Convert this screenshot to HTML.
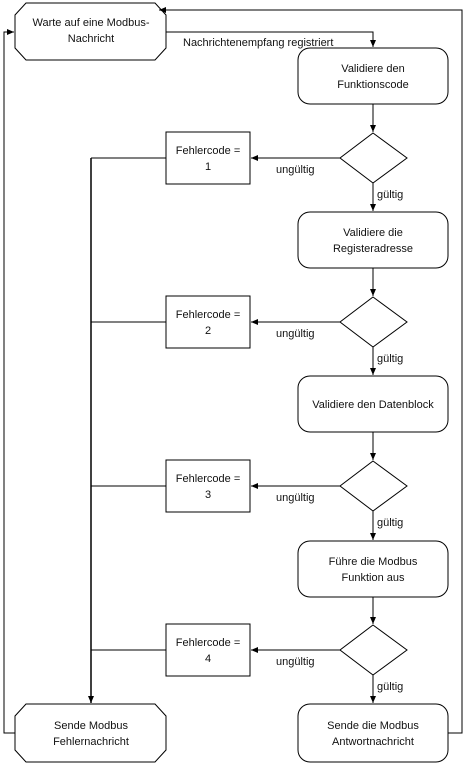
<!DOCTYPE html>
<html><head><meta charset="utf-8"><style>
body{margin:0;background:#fff;width:464px;height:769px;overflow:hidden}
svg text{font-family:"Liberation Sans",sans-serif;font-size:11px;fill:#111}
</style></head><body>
<svg width="464" height="769" viewBox="0 0 464 769">
<defs><marker id="a" markerWidth="8" markerHeight="8" refX="7" refY="4" orient="auto" markerUnits="userSpaceOnUse"><path d="M0,1 L7,4 L0,7z" fill="#000"/></marker></defs>
<g fill="none" stroke="#000" stroke-width="1">
<!-- octagons -->
<path d="M26,3 H155 L166,15 V48 L155,60 H26 L15,48 V15 Z"/>
<path d="M26,704 H155 L166,716 V750 L155,762 H26 L15,750 V716 Z"/>
<!-- rounded boxes -->
<rect x="298" y="48" width="150" height="56" rx="12"/>
<rect x="298" y="212" width="150" height="56" rx="12"/>
<rect x="298" y="376" width="150" height="56" rx="12"/>
<rect x="298" y="541" width="150" height="56" rx="12"/>
<rect x="298" y="704" width="150" height="58" rx="12"/>
<!-- diamonds -->
<path d="M373,133 L407,158 L373,183 L340,158 Z"/>
<path d="M373,297 L407,322 L373,347 L340,322 Z"/>
<path d="M373,461 L407,486 L373,511 L340,486 Z"/>
<path d="M373,625 L407,650 L373,675 L340,650 Z"/>
<!-- error boxes -->
<rect x="166" y="132" width="84" height="52"/>
<rect x="166" y="296" width="84" height="52"/>
<rect x="166" y="460" width="84" height="52"/>
<rect x="166" y="624" width="84" height="52"/>
<!-- connectors -->
<path d="M166,32 H373 V47" marker-end="url(#a)"/>
<path d="M373,104 V132" marker-end="url(#a)"/>
<path d="M373,183 V211" marker-end="url(#a)"/>
<path d="M373,268 V296" marker-end="url(#a)"/>
<path d="M373,347 V375" marker-end="url(#a)"/>
<path d="M373,432 V460" marker-end="url(#a)"/>
<path d="M373,511 V540" marker-end="url(#a)"/>
<path d="M373,597 V624" marker-end="url(#a)"/>
<path d="M373,675 V703" marker-end="url(#a)"/>
<path d="M340,158 H251" marker-end="url(#a)"/>
<path d="M340,322 H251" marker-end="url(#a)"/>
<path d="M340,486 H251" marker-end="url(#a)"/>
<path d="M340,650 H251" marker-end="url(#a)"/>
<path d="M166,158 H91 M166,322 H91 M166,486 H91 M166,650 H91"/>
<path d="M91,158 V703" marker-end="url(#a)" stroke-width="1.5"/>
<path d="M15,733 H4 V32 H14" marker-end="url(#a)"/>
<path d="M448,733 H462 V10 H159" marker-end="url(#a)"/>
</g>
<text x="91" y="26" text-anchor="middle">Warte auf eine Modbus-</text>
<text x="91" y="42" text-anchor="middle">Nachricht</text>
<text x="183" y="46">Nachrichtenempfang registriert</text>
<text x="373" y="72" text-anchor="middle">Validiere den</text>
<text x="373" y="88" text-anchor="middle">Funktionscode</text>
<text x="373" y="236" text-anchor="middle">Validiere die</text>
<text x="373" y="252" text-anchor="middle">Registeradresse</text>
<text x="373" y="408" text-anchor="middle">Validiere den Datenblock</text>
<text x="373" y="565" text-anchor="middle">Führe die Modbus</text>
<text x="373" y="581" text-anchor="middle">Funktion aus</text>
<text x="373" y="729" text-anchor="middle">Sende die Modbus</text>
<text x="373" y="745" text-anchor="middle">Antwortnachricht</text>
<text x="91" y="729" text-anchor="middle">Sende Modbus</text>
<text x="91" y="745" text-anchor="middle">Fehlernachricht</text>
<g text-anchor="middle">
<text x="208" y="154">Fehlercode =</text><text x="208" y="170">1</text>
<text x="208" y="318">Fehlercode =</text><text x="208" y="334">2</text>
<text x="208" y="482">Fehlercode =</text><text x="208" y="498">3</text>
<text x="208" y="646">Fehlercode =</text><text x="208" y="662">4</text>
</g>
<text x="276" y="173">ungültig</text>
<text x="276" y="337">ungültig</text>
<text x="276" y="501">ungültig</text>
<text x="276" y="665">ungültig</text>
<text x="377" y="198">gültig</text>
<text x="377" y="362">gültig</text>
<text x="377" y="526">gültig</text>
<text x="377" y="690">gültig</text>
</svg>
</body></html>
